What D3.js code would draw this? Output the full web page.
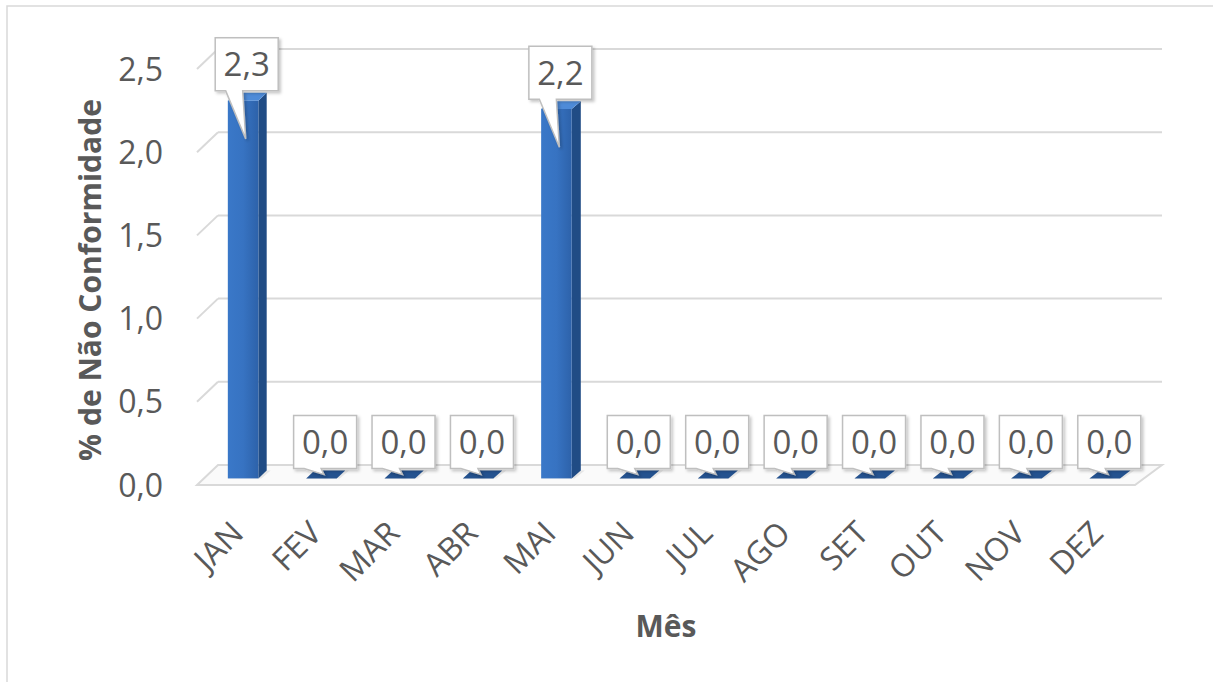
<!DOCTYPE html>
<html><head><meta charset="utf-8">
<script src="https://cdn.jsdelivr.net/npm/d3@7"></script>
<style>
html,body{margin:0;padding:0;background:#fff;}
svg{display:block;font-family:"Open Sans",sans-serif;}
</style></head>
<body>
<svg id="c" width="1213" height="682"></svg>
<script>
const categories = ["JAN","FEV","MAR","ABR","MAI","JUN","JUL","AGO","SET","OUT","NOV","DEZ"];
const values = [2.27,0,0,0,2.22,0,0,0,0,0,0,0];
const yTicks = [0,0.5,1.0,1.5,2.0,2.5];
const yTitle = "% de Não Conformidade";
const xTitle = "Mês";

const svg = d3.select("#c");
const fmt = v => d3.format(".1f")(v).replace(".", ",");

// frame
svg.append("rect").attr("x",7).attr("y",6).attr("width",1240).attr("height",700)
  .attr("fill","#fff").attr("stroke","#d9d9d9").attr("stroke-width",1.5);

// pseudo-3D scales: front plane and back plane
const xF = d3.scaleBand().domain(categories).range([197,1135]);
const xB = d3.scaleBand().domain(categories).range([218,1162]);
const yF = d3.scaleLinear().domain([0,2.5]).range([485,69]);
const yB = d3.scaleLinear().domain([0,2.5]).range([465,49]);
const lerp = (a,b,t)=>a+(b-a)*t;
const xAt = (c,t)=>lerp(xF(c),xB(c),t);
const bwAt = t=>lerp(xF.bandwidth(),xB.bandwidth(),t);
const yAt = (v,t)=>lerp(yF(v),yB(v),t);

const defs = svg.append("defs");
const g1 = defs.append("linearGradient").attr("id","front").attr("x1","0").attr("x2","1").attr("y1","0").attr("y2","0");
g1.append("stop").attr("offset","0").attr("stop-color","#3a78c8");
g1.append("stop").attr("offset","0.5").attr("stop-color","#3773c2");
g1.append("stop").attr("offset","1").attr("stop-color","#2d62aa");
const f = defs.append("filter").attr("id","sh").attr("x","-20%").attr("y","-20%").attr("width","150%").attr("height","150%");
f.append("feDropShadow").attr("dx",2).attr("dy",2).attr("stdDeviation",1.5).attr("flood-color","#000").attr("flood-opacity",0.22);

// floor
const cf = categories[0], cl = categories[categories.length-1];
const floor = [
  [xF(cf), yF(0)], [xF(cl)+xF.bandwidth(), yF(0)],
  [xB(cl)+xB.bandwidth(), yB(0)], [xB(cf), yB(0)]
];
svg.append("polygon").attr("points",floor.map(p=>p.join(",")).join(" "))
  .attr("fill","#fafafa").attr("stroke","#d9d9d9").attr("stroke-width",2);

// gridlines: side wall diagonal + back wall horizontal
yTicks.forEach(v=>{
  if (v>0) {
    svg.append("line").attr("x1",xF(cf)).attr("y1",yF(v)).attr("x2",xB(cf)).attr("y2",yB(v))
      .attr("stroke","#d9d9d9").attr("stroke-width",2);
  }
  svg.append("line").attr("x1",xB(cf)).attr("y1",yB(v)).attr("x2",xB(cl)+xB.bandwidth()).attr("y2",yB(v))
    .attr("stroke","#d9d9d9").attr("stroke-width",2);
});

// y tick labels
svg.append("g").selectAll("text").data(yTicks).join("text")
  .attr("x",163).attr("y",d=>yF(d)).attr("dy","0.36em").attr("text-anchor","end")
  .attr("font-size",32).attr("fill","#595959").text(fmt);

// bars
const t1 = 0.33, t2 = 0.72, frac = 0.39;
const bars = svg.append("g");
categories.forEach((c,i)=>{
  const v = values[i];
  const w1 = bwAt(t1)*frac, w2 = bwAt(t2)*frac;
  const c1 = xAt(c,t1)+bwAt(t1)/2, c2 = xAt(c,t2)+bwAt(t2)/2;
  const x1a=c1-w1/2, x1b=c1+w1/2, x2a=c2-w2/2, x2b=c2+w2/2;
  const y1v=yAt(v,t1), y10=yAt(0,t1), y2v=yAt(v,t2), y20=yAt(0,t2);
  bars.append("polygon").attr("points",[[x1a,y10],[x1b+3,y10],[x2b+4,y20],[x2a,y20]].map(p=>p.join(",")).join(" "))
    .attr("fill","#000").attr("opacity",0.08);
  if (v>0) {
    bars.append("polygon").attr("points",[[x1b,y1v],[x2b,y2v],[x2b,y20],[x1b,y10]].map(p=>p.join(",")).join(" "))
      .attr("fill","#204c85");
    bars.append("rect").attr("x",x1a).attr("y",y1v).attr("width",x1b-x1a).attr("height",y10-y1v)
      .attr("fill","url(#front)");
  }
  bars.append("polygon").attr("points",[[x1a,y1v],[x1b,y1v],[x2b,y2v],[x2a,y2v]].map(p=>p.join(",")).join(" "))
    .attr("fill", v>0 ? "#4e8bd8" : "#24528f");
});

// callout labels
const labels = svg.append("g");
categories.forEach((c,i)=>{
  const v = values[i];
  const cx = xAt(c,0.5)+bwAt(0.5)/2;
  const bw = 63, bh = 53;
  const bottom = yAt(v,t2) - 2;
  const top = bottom - bh;
  const left = cx - bw/2, right = cx + bw/2;
  const tipY = bottom + (v>0 ? 48 : 6);
  const tipX = cx - 1;
  const p = d3.path();
  p.moveTo(left,top); p.lineTo(right,top); p.lineTo(right,bottom);
  p.lineTo(cx-4,bottom); p.lineTo(tipX,tipY); p.lineTo(cx-21,bottom);
  p.lineTo(left,bottom); p.closePath();
  labels.append("path").attr("d",p.toString()).attr("fill","#fff")
    .attr("stroke","#bfbfbf").attr("stroke-width",1.5).attr("filter","url(#sh)");
  labels.append("text").attr("x",cx).attr("y",(top+bottom)/2).attr("dy","0.36em")
    .attr("text-anchor","middle").attr("font-size",33).attr("fill","#595959").text(fmt(v));
});

// x category labels
svg.append("g").selectAll("text").data(categories).join("text")
  .attr("transform",d=>`translate(${xF(d)+xF.bandwidth()/2+1},${527}) rotate(-45)`)
  .attr("dy","0.36em").attr("text-anchor","end")
  .attr("font-size",32).attr("fill","#595959").text(d=>d);

// axis titles
svg.append("text").attr("transform","translate(90,280) rotate(-90)").attr("dy","0.36em")
  .attr("text-anchor","middle").attr("font-size",30).attr("font-weight","bold").attr("fill","#595959").text(yTitle);
svg.append("text").attr("x",(xF(cf)+xF(cl)+xF.bandwidth())/2).attr("y",626).attr("dy","0.36em")
  .attr("text-anchor","middle").attr("font-size",30).attr("font-weight","bold").attr("fill","#595959").text(xTitle);
</script>
</body></html>
